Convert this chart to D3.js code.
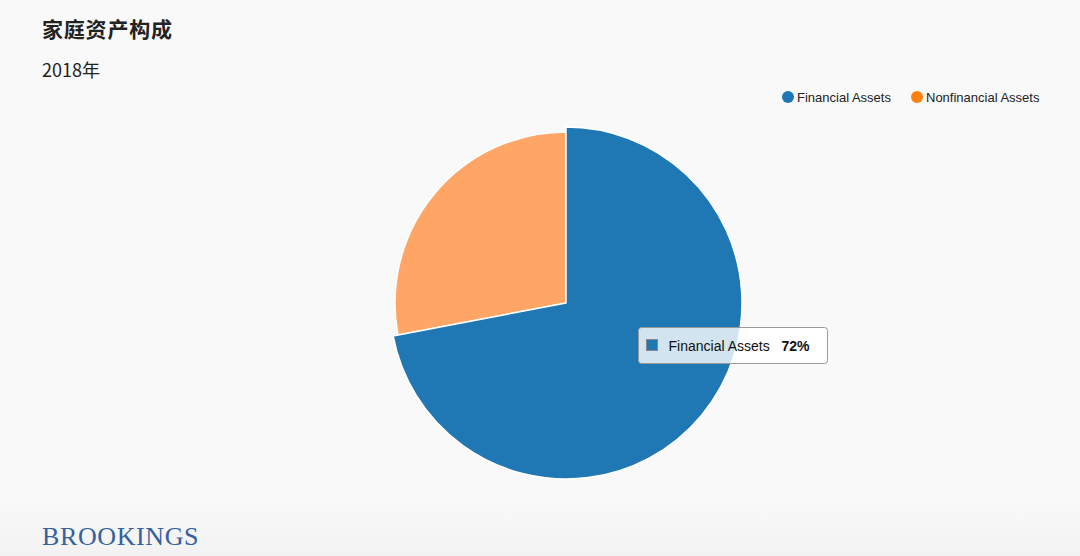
<!DOCTYPE html>
<html><head><meta charset="utf-8">
<script src="https://cdn.jsdelivr.net/npm/d3@7/dist/d3.min.js"></script>
<style>
html,body{margin:0;padding:0;background:#f9f9f9;}
svg{display:block;}
</style></head>
<body>
<script>
const categories = ["Financial Assets", "Nonfinancial Assets"];
const values = [72, 28];
const colors = ["#1f77b4", "#ff7f0e"];
const dimColors = ["#1f77b4", "#ffa666"];
const title = "家庭资产构成";
const subtitle = "2018年";
const hovered = 0;

const W = 1080, H = 556;
const svg = d3.select("body").append("svg").attr("width", W).attr("height", H);

const grad = svg.append("defs").append("linearGradient").attr("id","bg").attr("x1",0).attr("y1",0).attr("x2",0).attr("y2",1);
grad.append("stop").attr("offset","0.9").attr("stop-color","#f9f9f9");
grad.append("stop").attr("offset","1").attr("stop-color","#f2f2f2");
svg.append("rect").attr("width",W).attr("height",H).attr("fill","url(#bg)");

svg.append("text").attr("x",42).attr("y",37).text(title)
  .attr("font-family","'Noto Sans CJK SC'").attr("font-weight","bold").attr("font-size",21).attr("letter-spacing",0.8).attr("fill","#222");
svg.append("text").attr("x",42).attr("y",77).text(subtitle)
  .attr("font-family","'Noto Sans CJK SC'").attr("font-size",18).attr("fill","#222");

// legend
const legend = svg.append("g").attr("font-family","'Liberation Sans', Arial").attr("font-size",13).attr("fill","#222");
const legX = [788, 917];
categories.forEach((c,i)=>{
  const g = legend.append("g").attr("transform",`translate(${legX[i]},97)`);
  g.append("circle").attr("r",6).attr("fill",colors[i]);
  g.append("text").attr("x",9).attr("y",4.5).text(c);
});

const cx = 566, cy = 303, R = 171;
const pie = d3.pie().sort(null).value(d=>d)(values);
const arc = d3.arc().innerRadius(0);
const g = svg.append("g").attr("transform",`translate(${cx},${cy})`);
g.selectAll("path").data(pie).join("path")
  .attr("d", (d,i)=>arc.outerRadius(i===hovered ? R+5 : R)(d))
  .attr("fill",(d,i)=>dimColors[i])
  .attr("stroke","#fff").attr("stroke-width",1.5)
  .attr("stroke-linejoin","round");
g.selectAll("path").filter((d,i)=>i===hovered).raise();

// tooltip
const tt = svg.append("g").attr("transform","translate(638.5,327.5)");
tt.append("rect").attr("width",189).attr("height",36).attr("rx",3)
  .attr("fill","rgba(255,255,255,0.8)").attr("stroke","#999").attr("stroke-width",1);
tt.append("rect").attr("x",8).attr("y",12).attr("width",11).attr("height",11)
  .attr("fill",colors[hovered]).attr("stroke","#888").attr("stroke-width",1);
tt.append("text").attr("x",30).attr("y",23).text(categories[hovered])
  .attr("font-family","'Liberation Sans', Arial").attr("font-size",14).attr("fill","#111");
tt.append("text").attr("x",143).attr("y",23).text(values[hovered]+"%")
  .attr("font-family","'Liberation Sans', Arial").attr("font-size",14).attr("font-weight","bold").attr("fill","#111");

svg.append("text").attr("x",42).attr("y",545).text("BROOKINGS")
  .attr("font-family","'Liberation Serif', serif").attr("font-size",26).attr("fill","#35619c").attr("letter-spacing",0.6);
</script>
</body></html>
